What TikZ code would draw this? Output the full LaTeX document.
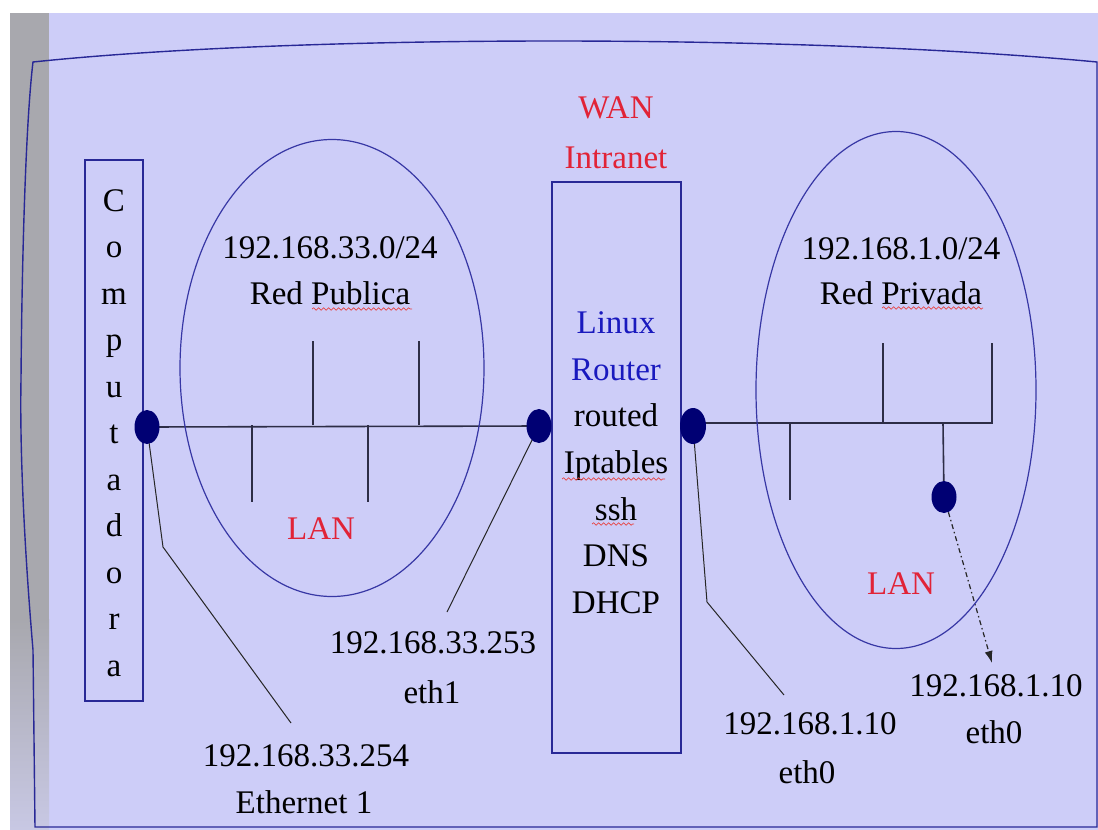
\documentclass[tikz,border=0pt]{standalone}
\usepackage{fontspec}
\setmainfont{Liberation Serif}
\usetikzlibrary{shapes.geometric,arrows.meta,decorations.pathmorphing}
\definecolor{bglav}{RGB}{205,205,248}
\definecolor{graystrip}{RGB}{168,168,174}
\definecolor{graylight}{RGB}{200,200,228}
\definecolor{framecol}{RGB}{40,40,150}
\definecolor{ellcol}{RGB}{55,55,165}
\definecolor{navy}{RGB}{0,0,115}
\definecolor{buscol}{RGB}{45,45,70}
\definecolor{redtxt}{RGB}{225,35,55}
\definecolor{bluetxt}{RGB}{25,25,190}
\definecolor{squigcol}{RGB}{230,70,70}
\pgfdeclarelayer{bg}
\pgfdeclarelayer{lines}
\pgfsetlayers{bg,lines,main}
\begin{document}
\begin{tikzpicture}[x=1pt,y=-1pt,
  lbl/.style={font=\fontsize{33}{36}\selectfont, inner sep=0pt, anchor=base, text=black},
  redlbl/.style={lbl, text=redtxt},
  bluelbl/.style={lbl, text=bluetxt},
  frame/.style={draw=framecol, line width=1.4pt},
  boxnode/.style={rectangle, draw=framecol, line width=1.4pt, inner sep=0pt},
  lanell/.style={ellipse, draw=ellcol, line width=1.2pt, inner sep=0pt},
  dot/.style={ellipse, fill=navy, draw=none, inner sep=0pt, minimum width=25pt, minimum height=34pt},
  bus/.style={draw=buscol, line width=1.6pt},
  conn/.style={draw=black!85, line width=1pt},
  arr/.style={draw=black!85, line width=1.2pt, dash pattern=on 5pt off 3pt on 1.5pt off 3pt, -{Latex[length=12pt,width=8pt]}},
  squig/.style={draw=squigcol, line width=0.7pt, decorate, decoration={snake, segment length=5pt, amplitude=1.2pt}}
]
\useasboundingbox (0,0) rectangle (1098,830);
\begin{pgfonlayer}{bg}
  \fill[white] (0,0) rectangle (1098,830);
  \fill[bglav] (10,13) rectangle (1098,830);
  \fill[graystrip] (10,13) rectangle (49,620);
  \shade[top color=graystrip, bottom color=graylight] (10,619) rectangle (49,830);
  \draw[frame] (1097,827) -- (35,827) -- (33,650)
     .. controls (22,520) and (20,430) .. (21,380)
     .. controls (22,250) and (26,120) .. (33,62)
     .. controls (300,34) and (800,34) .. (1097,62) -- cycle;
\end{pgfonlayer}

% boxes and ellipses
\node[boxnode, minimum width=58pt, minimum height=541pt] (comp) at (114,430.5) {};
\node[boxnode, minimum width=129pt, minimum height=571pt] (rtr) at (616.5,467.5) {};
\node[lanell, minimum width=304pt, minimum height=457pt] (lanA) at (332,368) {};
\node[lanell, minimum width=280pt, minimum height=517pt] (lanB) at (896,390) {};

% Computadora letters
\foreach \ch [count=\i] in {C,o,m,p,u,t,a,d,o,r,a}
  \node[lbl] (c\i) at (114,{211+46.5*(\i-1)}) {\ch};

% router texts
\node[redlbl] (wan) at (616,118) {WAN};
\node[redlbl] (intra) at (616,168) {Intranet};
\node[bluelbl] (linux) at (616,333) {Linux};
\node[bluelbl] (router) at (616,380) {Router};
\node[lbl] (routed) at (616,426) {routed};
\node[lbl] (ipt) at (616,473) {Iptables};
\node[lbl] (ssh) at (616,520) {ssh};
\node[lbl] (dns) at (616,566) {DNS};
\node[lbl] (dhcp) at (616,613) {DHCP};

% network labels
\node[lbl] (netA) at (330,258) {192.168.33.0/24};
\node[lbl] (redA) at (330,304) {Red Publica};
\node[lbl] (netB) at (901,259) {192.168.1.0/24};
\node[lbl] (redB) at (901,304) {Red Privada};
\node[redlbl] (lanAl) at (321,539) {LAN};
\node[redlbl] (lanBl) at (901,594) {LAN};

% interface labels
\node[lbl] (ip253) at (433,653) {192.168.33.253};
\node[lbl] (eth1) at (432,703) {eth1};
\node[lbl] (ip254) at (306,766) {192.168.33.254};
\node[lbl] (eth) at (304,813) {Ethernet 1};
\node[lbl] (ipr) at (810,734) {192.168.1.10};
\node[lbl] (ethr) at (807,783) {eth0};
\node[lbl] (ipc) at (996,696) {192.168.1.10};
\node[lbl] (ethc) at (994,743) {eth0};

% spell-check squiggles
\draw[squig] (312,309) -- (412,309);
\draw[squig] (882,308) -- (983,308);
\draw[squig] (562,479) -- (665,479);
\draw[squig] (592,524) -- (634,524);

% dots
\node[dot] (L1) at (147,427) {};
\node[dot] (L2) at (539,426) {};
\node[dot, minimum width=26pt, minimum height=36pt] (R1) at (693,426) {};
\node[dot, minimum height=32pt] (R3) at (944,497) {};

\coordinate (k1) at (163,547);
\coordinate (e1) at (291,723);
\coordinate (e2) at (447,612);
\coordinate (k3) at (707,602);
\coordinate (e3) at (784,695);
\coordinate (e4) at (992,663);

\begin{pgfonlayer}{lines}
  % left bus
  \draw[bus] (L1.center) -- (L2.center);
  \draw[bus] (313,425) -- (313,341);
  \draw[bus] (419,425) -- (419,341);
  \draw[bus] (252,425) -- (252,502);
  \draw[bus] (368,425) -- (368,502);
  % right bus
  \draw[bus] (R1.center) |- (992,423) -- (992,343);
  \draw[bus] (883,423) -- (883,343);
  \draw[bus] (790,423) -- (790,500);
  \draw[bus] (943,423) -- (R3.center);
  % connectors to labels
  \draw[conn] (L1.center) -- (k1) -- (e1);
  \draw[conn] (L2.center) -- (e2);
  \draw[conn] (R1.center) -- (k3) -- (e3);
  \draw[arr] (R3) -- (e4);
\end{pgfonlayer}
\end{tikzpicture}
\end{document}
